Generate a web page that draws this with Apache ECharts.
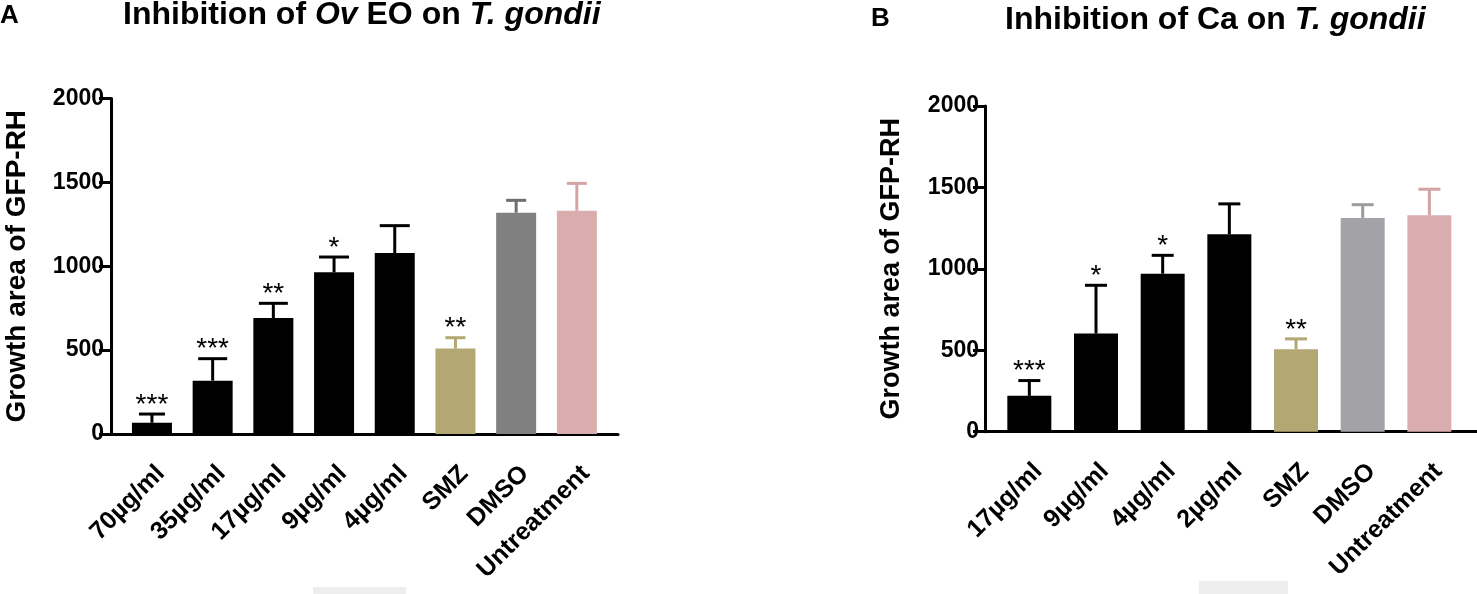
<!DOCTYPE html>
<html>
<head>
<meta charset="utf-8">
<script src="https://cdn.jsdelivr.net/npm/echarts@6/dist/echarts.min.js"></script>
<style>
  html, body { margin: 0; padding: 0; background: #fff; }
  #chart { width: 1477px; height: 594px; }
</style>
</head>
<body>
<div id="chart"></div>
<script>
// panel A: Ov EO
const catsA = ['70µg/ml', '35µg/ml', '17µg/ml', '9µg/ml', '4µg/ml', 'SMZ', 'DMSO', 'Untreatment'];
const meanA = [67, 318, 691, 964, 1079, 509, 1319, 1331];
const sdA = [52, 131, 88, 91, 163, 65, 74, 163];
const starsA = ['***', '***', '**', '*', '', '**', '', ''];

// panel B: Ca
const catsB = ['17µg/ml', '9µg/ml', '4µg/ml', '2µg/ml', 'SMZ', 'DMSO', 'Untreatment'];
const meanB = [220, 603, 970, 1212, 507, 1313, 1329];
const sdB = [94, 296, 113, 187, 63, 81, 160];
const starsB = ['***', '*', '*', '', '**', '', ''];

// y axis scale
const yMin = 0;
const yMax = 2000;
const yStep = 500;

// colours
const barColA = ['#000', '#000', '#000', '#000', '#000', '#b3a774', '#808080', '#d9adad'];
const errColA = ['#000', '#000', '#000', '#000', '#000', '#b3a774', '#6e6e6e', '#d4a3a3'];
const capA = [26, 29, 29, 30, 30, 20, 20, 20];
const barColB = ['#000', '#000', '#000', '#000', '#b3a774', '#a3a2a7', '#d9adad'];
const errColB = ['#000', '#000', '#000', '#000', '#b3a774', '#9c9ba0', '#d4a3a3'];
const capB = [22, 22, 22, 22, 22, 22, 22];

const FONT = '"Liberation Sans", Arial, Helvetica, sans-serif';

const myChart = echarts.init(document.querySelector('#chart'));

const xMain = (gridIndex, cats) => ({
  type: 'category',
  gridIndex,
  data: cats,
  axisLine: { show: false },
  axisTick: { alignWithLabel: true, length: 13, lineStyle: { width: 3, color: '#000' } },
  axisLabel: {
    rotate: 45,
    interval: 0,
    margin: 27,
    verticalAlign: 'top',
    color: '#000',
    fontSize: 25,
    fontWeight: 'bold',
    fontFamily: FONT
  }
});

const xLine = gridIndex => ({
  type: 'value',
  gridIndex,
  min: 0,
  max: 1,
  axisLine: { show: true, lineStyle: { width: 3, color: '#000' } },
  axisTick: { show: false },
  axisLabel: { show: false },
  splitLine: { show: false }
});

const yMain = (gridIndex, offset, nameSize, labelMargin) => ({
  type: 'value',
  gridIndex,
  min: yMin,
  max: yMax,
  interval: yStep,
  offset,
  name: 'Growth area of GFP-RH',
  nameLocation: 'middle',
  nameGap: 80,
  nameTextStyle: { fontSize: nameSize, fontWeight: 'bold', color: '#000', fontFamily: FONT },
  axisLine: { show: true, lineStyle: { width: 3, color: '#000' } },
  axisTick: { show: true, length: 12, lineStyle: { width: 3, color: '#000' } },
  axisLabel: {
    margin: labelMargin,
    color: '#000',
    fontSize: 23,
    fontWeight: 'bold',
    fontFamily: FONT,
    formatter: v => String(v)
  },
  splitLine: { show: false }
});

const yLine = gridIndex => ({
  type: 'value',
  gridIndex,
  min: 0,
  max: 1,
  show: false
});

const barSeries = (axisIndex, means, colors, width) => ({
  type: 'bar',
  xAxisIndex: axisIndex,
  yAxisIndex: axisIndex,
  barWidth: width,
  data: means.map((v, i) => ({ value: v, itemStyle: { color: colors[i] } })),
  z: 2
});

const errorSeries = (axisIndex, means, sds, stars, colors, caps) => ({
  type: 'custom',
  xAxisIndex: axisIndex,
  yAxisIndex: axisIndex,
  data: means.map((m, i) => [i, m, sds[i]]),
  encode: { x: 0, y: 1 },
  z: 3,
  renderItem(params, api) {
    const i = api.value(0);
    const m = api.value(1);
    const s = api.value(2);
    const base = api.coord([i, m]);
    const top = api.coord([i, m + s]);
    const hw = caps[i] / 2;
    const stroke = colors[i];
    const children = [
      {
        type: 'line',
        shape: { x1: base[0], y1: base[1], x2: top[0], y2: top[1] },
        style: { stroke, lineWidth: 3 }
      },
      {
        type: 'line',
        shape: { x1: top[0] - hw, y1: top[1], x2: top[0] + hw, y2: top[1] },
        style: { stroke, lineWidth: 3 }
      }
    ];
    if (stars[i]) {
      children.push({
        type: 'text',
        x: top[0],
        y: top[1] - 9,
        style: {
          text: stars[i],
          fill: '#000',
          align: 'center',
          verticalAlign: 'middle',
          font: 'normal 28px ' + FONT
        }
      });
    }
    return { type: 'group', children };
  }
});

const titleRich = {
  n: { fontSize: 32, fontWeight: 'bold', color: '#000', fontFamily: FONT },
  i: { fontSize: 32, fontWeight: 'bold', fontStyle: 'italic', color: '#000', fontFamily: FONT }
};

const option = {
  backgroundColor: '#fff',
  animation: false,
  title: [
    { text: 'A', left: 0, top: 3, padding: 0, textStyle: { fontSize: 26, fontWeight: 'bold', color: '#000', fontFamily: FONT } },
    { text: '{n|Inhibition of }{i|Ov}{n| EO on }{i|T. gondii}', left: 123, top: -1, padding: 0, textStyle: { rich: titleRich } },
    { text: 'B', left: 871, top: 6, padding: 0, textStyle: { fontSize: 26, fontWeight: 'bold', color: '#000', fontFamily: FONT } },
    { text: '{n|Inhibition of Ca on }{i|T. gondii}', left: 1005, top: 4, padding: 0, textStyle: { rich: titleRich } }
  ],
  grid: [
    { left: 121.6, width: 485.6, top: 98.5, height: 335.5 },
    { left: 111, width: 507, top: 98.5, height: 335.5 },
    { left: 996, width: 466.7, top: 106, height: 325.7 },
    { left: 985, width: 492, top: 106, height: 325.7 }
  ],
  xAxis: [xMain(0, catsA), xLine(1), xMain(2, catsB), xLine(3)],
  yAxis: [yMain(0, 10.6, 28, 7), yLine(1), yMain(2, 11, 27, 6), yLine(3)],
  series: [
    barSeries(0, meanA, barColA, 40),
    errorSeries(0, meanA, sdA, starsA, errColA, capA),
    barSeries(2, meanB, barColB, 44),
    errorSeries(2, meanB, sdB, starsB, errColB, capB)
  ],
  graphic: [
    { type: 'rect', shape: { x: 313, y: 587, width: 93, height: 7 }, style: { fill: '#eeeeee' } },
    { type: 'rect', shape: { x: 1199, y: 581, width: 89, height: 13 }, style: { fill: '#eeeeee' } }
  ]
};

myChart.setOption(option);

window.addEventListener('resize', function() {
  myChart.resize();
});
</script>
</body>
</html>
